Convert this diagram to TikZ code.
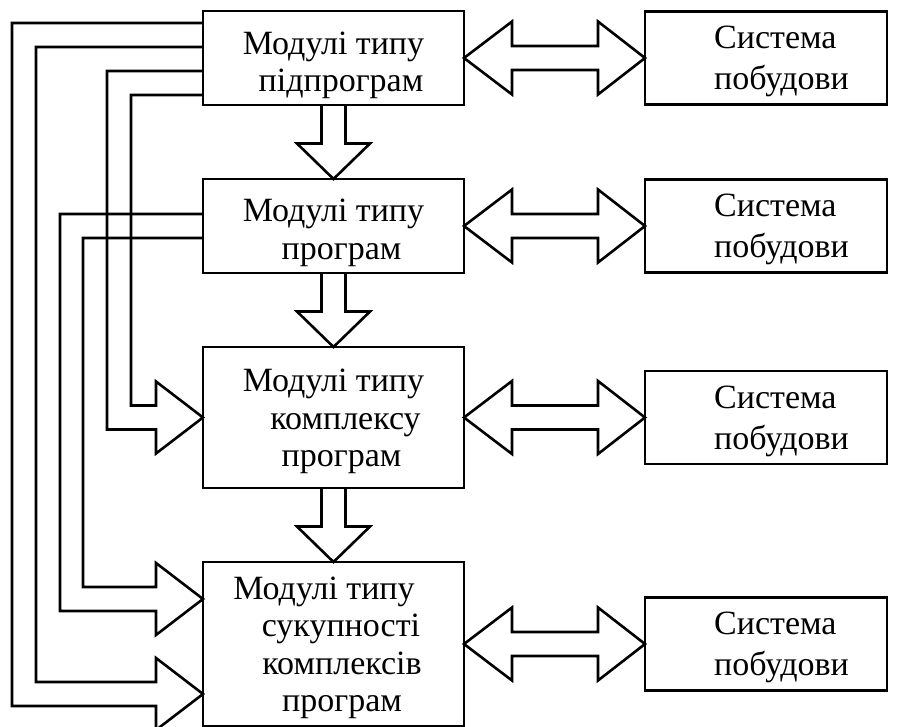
\documentclass[tikz,border=0pt]{standalone}
\usepackage{fontspec}
\setmainfont{Liberation Serif}
\usetikzlibrary{calc}

% hollow block arrow pointing down from one box to the next
\newcommand{\downblk}[2]{%
  \draw[blk] ($(#1.south)+(-12,0)$) -- ++(0,38.5) -- ++(-24.5,0) -- (#2.north)
    -- ($(#1.south)+(36.5,38.5)$) -- ++(-24.5,0) -- ++(0,-38.5);
}
% hollow two-headed block arrow between a module and its build system
\newcommand{\dblblk}[2]{%
  \draw[blk] (#1.east) -- ($(#1.east)+(48,-36.5)$) -- ++(0,24.5)
    -- ($(#2.west)+(-47,-12)$) -- ++(0,-24.5) -- (#2.west)
    -- ($(#2.west)+(-47,36.5)$) -- ++(0,-24.5)
    -- ($(#1.east)+(48,12)$) -- ++(0,24.5) -- cycle;
}
% feedback arrow: two lines leave a box, run down their lanes and join as a block arrow
% #1 upper start, #2 upper lane, #3 lower start, #4 lower lane, #5 tip
\newcommand{\feedarrow}[5]{%
  \path (#5) ++(-47,-12) coordinate (su) ++(0,-24) coordinate (hu)
        (#5) ++(-47,12) coordinate (sl) ++(0,24) coordinate (hl);
  \draw[blk] (#1) -| (#2 |- su) -- (su) -- (hu) -- (#5) -- (hl) -- (sl)
    -- (#4 |- sl) |- (#3);
}

\begin{document}
\begin{tikzpicture}[x=1pt,y=-1pt,
  box/.style={draw, line width=2.6pt, minimum width=261pt, inner sep=0pt, outer sep=0pt},
  sysbox/.style={draw, line width=2.6pt, minimum width=242pt, minimum height=93pt,
    inner sep=0pt, outer sep=0pt},
  lbl/.style={align=center, inner sep=0pt, font=\fontsize{34}{37.5}\selectfont},
  slbl/.style={align=left, inner sep=0pt, anchor=west, font=\fontsize{34}{41}\selectfont},
  blk/.style={draw, line width=2.6pt}]
\useasboundingbox (0,0) rectangle (900,727);

% module boxes
\node[box, minimum height=94pt]  (m1) at (333.5,58) {};
\node[box, minimum height=94pt]  (m2) at (333.5,226) {};
\node[box, minimum height=141pt] (m3) at (333.5,417.5) {};
\node[box, minimum height=164pt] (m4) at (333.5,644) {};

\node[lbl] (m1t) at ($(m1.center)+(0,7.5)$) {Модулі типу\\\hspace*{15pt}підпрограм};
\node[lbl] (m2t) at ($(m2.center)+(0,7)$) {Модулі типу\\\hspace*{16pt}програм};
\node[lbl] (m3t) at ($(m3.center)+(0,4)$) {Модулі типу\\\hspace*{24pt}комплексу\\\hspace*{16pt}програм};
\node[lbl] (m4t) at ($(m4.center)+(0,4)$) {Модулі типу\hspace*{19pt}\\\hspace*{15pt}сукупності\\\hspace*{17pt}комплексів\\\hspace*{17pt}програм};

% build system boxes
\node[sysbox] (s1) at (766,58) {};
\node[sysbox] (s2) at (766,226) {};
\node[sysbox] (s3) at (766,417.5) {};
\node[sysbox] (s4) at (766,644) {};
\foreach \i in {1,...,4}
  \node[slbl] (s\i t) at ($(s\i.west)+(69,3.5)$) {Система\\побудови};

% flow between modules
\downblk{m1}{m2}
\downblk{m2}{m3}
\downblk{m3}{m4}

% links to the build systems
\dblblk{m1}{s1}
\dblblk{m2}{s2}
\dblblk{m3}{s3}
\dblblk{m4}{s4}

% lanes on the left
\coordinate (l1) at (12,0);
\coordinate (l2) at (36,0);
\coordinate (l3) at (60,0);
\coordinate (l4) at (83,0);
\coordinate (l5) at (107,0);
\coordinate (l6) at (131,0);

% exits on the left sides of the upper modules
\coordinate (a1) at ($(m1.north west)+(0,12)$);
\coordinate (a2) at ($(m1.north west)+(0,36)$);
\coordinate (a3) at ($(m1.north west)+(0,60)$);
\coordinate (a4) at ($(m1.north west)+(0,84)$);
\coordinate (b1) at ($(m2.north west)+(0,35)$);
\coordinate (b2) at ($(m2.north west)+(0,59)$);

% arrow tips on the lower modules
\coordinate (t3)  at (m3.west);
\coordinate (t4a) at ($(m4.north west)+(0,37)$);
\coordinate (t4b) at ($(m4.north west)+(0,132)$);

\feedarrow{a4}{l6}{a3}{l5}{t3}
\feedarrow{b2}{l4}{b1}{l3}{t4a}
\feedarrow{a2}{l2}{a1}{l1}{t4b}
\end{tikzpicture}
\end{document}
